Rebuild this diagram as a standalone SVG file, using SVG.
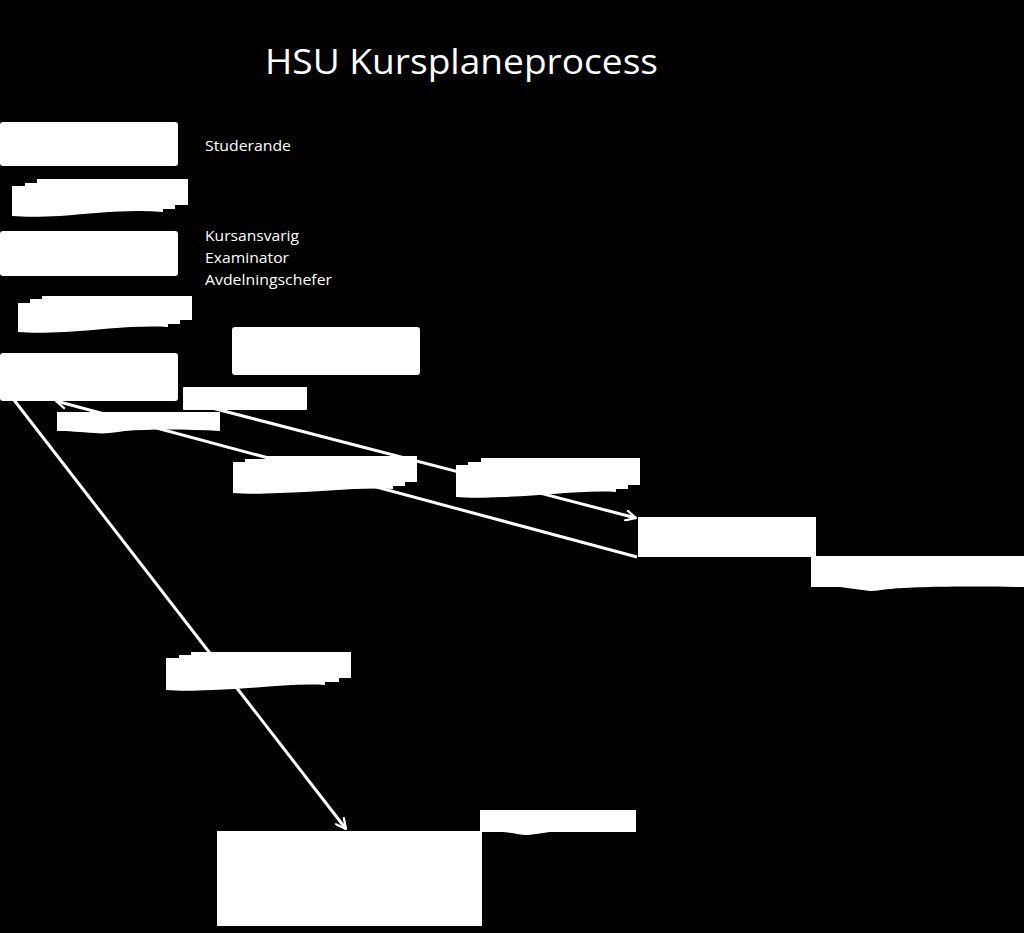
<svg xmlns="http://www.w3.org/2000/svg" width="1024" height="933" viewBox="0 0 1024 933">
  <defs>
    <style>
      .bg { fill: #000000; }
      .shape { fill: #ffffff; stroke: none; }
      .conn { stroke: #ffffff; stroke-width: 3; fill: none; }
      .title { fill: #ffffff; font-family: "Open Sans", "Liberation Sans", sans-serif; font-size: 35px; }
      .label { fill: #ffffff; font-family: "Open Sans", "Liberation Sans", sans-serif; font-size: 15px; }
    </style>
    <marker id="arrow" viewBox="0 0 12 12" refX="11" refY="6" markerWidth="12" markerHeight="12" markerUnits="userSpaceOnUse" orient="auto-start-reverse">
      <path d="M1,1 L11,6 L1,11" fill="none" stroke="#ffffff" stroke-width="2.2" stroke-linecap="round" stroke-linejoin="round"/>
    </marker>
  </defs>
  <rect class="bg" x="0" y="0" width="1024" height="933"/>

  <text class="title" x="265" y="74" textLength="393" lengthAdjust="spacingAndGlyphs">HSU Kursplaneprocess</text>

  <g id="connectors">
    <line class="conn" x1="56" y1="401" x2="637" y2="557" marker-start="url(#arrow)"/>
    <line class="conn" x1="212" y1="408" x2="636" y2="518" marker-end="url(#arrow)"/>
    <line class="conn" x1="14" y1="400" x2="346" y2="829" marker-end="url(#arrow)"/>
  </g>

  <g id="studerande-box"><rect class="shape" x="0" y="122" width="178" height="44" rx="3"/></g>
  <g id="studerande-docs"><path class="shape" d="M12,186 H25 V183 H37 V179 H188 V205 H175 V209 H163 V212 C130,209 95,213 60,216 C40,217 25,217 12,216 Z"/></g>
  <g id="studerande-label">
    <text class="label" x="205" y="151" textLength="86" lengthAdjust="spacingAndGlyphs">Studerande</text>
  </g>

  <g id="kursansvarig-box"><rect class="shape" x="0" y="231" width="178" height="45" rx="3"/></g>
  <g id="kursansvarig-label">
    <text class="label" x="205" y="241" textLength="94" lengthAdjust="spacingAndGlyphs">Kursansvarig</text>
    <text class="label" x="205" y="263" textLength="84" lengthAdjust="spacingAndGlyphs">Examinator</text>
    <text class="label" x="205" y="285" textLength="127" lengthAdjust="spacingAndGlyphs">Avdelningschefer</text>
  </g>
  <g id="kursansvarig-docs"><path class="shape" d="M18,303 H30 V299 H42 V296 H192 V320 H180 V324 H168 V327 C135,325 100,330 65,332 C45,333 30,333 18,332 Z"/></g>

  <g id="box-e"><rect class="shape" x="232" y="327" width="188" height="48" rx="3"/></g>
  <g id="box-f"><rect class="shape" x="0" y="353" width="178" height="48" rx="3"/></g>
  <g id="box-g"><rect class="shape" x="183" y="387" width="124" height="23" rx="1"/></g>
  <g id="doc-h"><path class="shape" d="M57,412 H220 V431 C185,429 150,429 125,431 C112,433 102,434 95,433 C80,432 68,431 57,431 Z"/></g>
  <g id="docs-i"><path class="shape" d="M233,462 H245 V459 H265 V456 H417 V482 H405 V486 H393 V489 C360,487 320,492 280,493 C260,494 245,494 233,493 Z"/></g>
  <g id="docs-j"><path class="shape" d="M456,465 H468 V462 H481 V458 H640 V485 H628 V489 H616 V492 C583,490 543,496 503,497 C483,498 468,498 456,497 Z"/></g>
  <g id="box-k"><rect class="shape" x="638" y="517" width="178" height="40"/></g>
  <g id="doc-l"><path class="shape" d="M811,556 H1024 V587 C960,586 910,587 890,589 C880,590 875,591 870,591 C860,590 850,588 840,587 C830,587 820,587 811,587 Z"/></g>
  <g id="docs-o"><path class="shape" d="M166,658 H179 V655 H191 V652 H351 V678 H339 V682 H325 V685 C292,683 252,689 212,690 C192,691 178,691 166,690 Z"/></g>
  <g id="doc-m"><path class="shape" d="M480,810 H636 V832 C600,832 570,832 550,832 C540,833 533,835 525,835 C515,834 510,832 500,832 C490,832 485,832 480,832 Z"/></g>
  <g id="box-n"><rect class="shape" x="217" y="831" width="265" height="95"/></g>
</svg>
